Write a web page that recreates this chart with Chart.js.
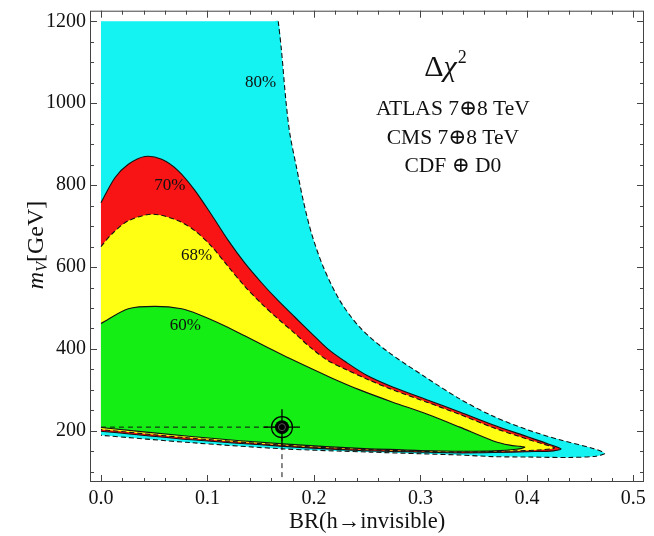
<!DOCTYPE html>
<html>
<head>
<meta charset="utf-8">
<script src="https://cdn.jsdelivr.net/npm/chart.js@4.4.0/dist/chart.umd.min.js"></script>
<style>
  html, body { margin: 0; padding: 0; background: #fff; }
  #wrap { width: 654px; height: 536px; }
</style>
</head>
<body>
<div id="wrap"><canvas id="chi2Chart"></canvas></div>
<script>
// 軸の範囲と目盛り
const brRange = [-0.0103, 0.51];
const mvRange = [75, 1226];
const brTicks = [0, 0.1, 0.2, 0.3, 0.4, 0.5];
const mvTicks = [200, 400, 600, 800, 1000, 1200];
const brMinorStep = 0.02;
const mvMinorStep = 50;

// スキャン範囲の上端
const scanTopMV = 1200;

// 80% 等高線（上側は先端まで、下側は先端から BR=0 へ）
const c80UpperBR = [0.1665, 0.1695, 0.1737, 0.1775, 0.1837, 0.190, 0.198, 0.209, 0.2244, 0.243, 0.268, 0.306, 0.337, 0.368, 0.400, 0.431, 0.462, 0.473];
const c80UpperMV = [1200, 1130, 1006, 924, 843, 762, 680, 599, 518, 453, 396, 329, 278, 236, 203, 178, 157, 145];
const c80LowerBR = [0.465, 0.44, 0.40, 0.368, 0.337, 0.30, 0.253, 0.171, 0.085, 0];
const c80LowerMV = [138, 135, 136, 137, 141, 144, 148, 156, 171, 189];

// 70% 等高線
const c70UpperBR = [0, 0.0131, 0.0257, 0.0413, 0.057, 0.0726, 0.088, 0.104, 0.1195, 0.135, 0.151, 0.166, 0.182, 0.197, 0.213, 0.230, 0.250, 0.274, 0.306, 0.337, 0.368, 0.400, 0.420, 0.432];
const c70UpperMV = [757, 818, 851, 870, 863, 835, 788, 727, 665, 610, 561, 519, 478, 440, 400, 368, 335, 307, 276, 246, 215, 186, 168, 156];
const c70LowerBR = [0.425, 0.40, 0.37, 0.337, 0.30, 0.243, 0.171, 0.085, 0];
const c70LowerMV = [151, 149, 147, 146, 148, 152, 162, 178, 199];

// 68% 等高線
const c68UpperBR = [0, 0.010, 0.0257, 0.049, 0.0726, 0.088, 0.104, 0.1195, 0.135, 0.151, 0.166, 0.182, 0.197, 0.213, 0.230, 0.250, 0.274, 0.306, 0.337, 0.368, 0.400, 0.415, 0.426];
const c68UpperMV = [650, 680, 713, 729, 713, 689, 650, 601, 553, 510, 474, 438, 403, 372, 350, 326, 300, 270, 240, 208, 180, 168, 158];
const c68LowerBR = [0.41, 0.39, 0.337, 0.30, 0.243, 0.171, 0.085, 0];
const c68LowerMV = [153, 151, 148, 150, 155, 165, 182, 203];

// 60% 等高線
const c60UpperBR = [0, 0.0257, 0.0507, 0.0758, 0.093, 0.115, 0.135, 0.157, 0.177, 0.215, 0.243, 0.274, 0.306, 0.337, 0.368, 0.384, 0.394, 0.398];
const c60UpperMV = [462, 498, 504, 498, 483, 458, 432, 403, 377, 331, 300, 270, 241, 209, 176, 165, 162, 160];
const c60LowerBR = [0.39, 0.37, 0.337, 0.30, 0.243, 0.171, 0.085, 0];
const c60LowerMV = [155, 151, 150, 152, 157, 168, 186, 208];

// 最良フィット点
const bestFitBR = 0.17;
const bestFitMV = 209;

// 等高線ラベル
const contourLabelText = ["80%", "70%", "68%", "60%"];
const contourLabelBR = [0.150, 0.0646, 0.0898, 0.0793];
const contourLabelMV = [1050, 798, 628, 457];

// 右上の説明
const experimentLines = ["ATLAS 7⊕8 TeV", "CMS 7⊕8 TeV", "CDF ⊕ D0"];
const experimentMV = [986, 915, 847];
const legendBR = 0.3305;

const serif = '"Liberation Serif", "DejaVu Serif", serif';

// BR と m_V の配列を点の配列にする
function toPoints(brList, mvList) {
  return brList.map(function (br, i) {
    return { x: br, y: mvList[i] };
  });
}

const c80 = toPoints(c80UpperBR, c80UpperMV).concat(toPoints(c80LowerBR, c80LowerMV));
const c70 = toPoints(c70UpperBR, c70UpperMV).concat(toPoints(c70LowerBR, c70LowerMV));
const c68 = toPoints(c68UpperBR, c68UpperMV).concat(toPoints(c68LowerBR, c68LowerMV));
const c60 = toPoints(c60UpperBR, c60UpperMV).concat(toPoints(c60LowerBR, c60LowerMV));

// 上端は直線で閉じる（角で曲線がはみ出さないよう角の手前にも点を置く）
const c80Region = [
  { x: 0, y: scanTopMV },
  { x: c80UpperBR[0] - 0.004, y: scanTopMV },
].concat(c80);

// 塗りつぶし領域
function regionDataset(points, color, order) {
  return {
    data: points,
    showLine: true,
    fill: "shape",
    backgroundColor: color,
    borderColor: "transparent",
    borderWidth: 0,
    pointRadius: 0,
    tension: 0.3,
    order: order,
  };
}

// 等高線の線
function contourDataset(points, dash, order) {
  return {
    data: points,
    showLine: true,
    fill: false,
    borderColor: "#111",
    borderWidth: 1.1,
    borderDash: dash,
    pointRadius: 0,
    tension: 0.3,
    order: order,
  };
}

const bestFit = [{ x: bestFitBR, y: bestFitMV }];

const datasets = [
  regionDataset(c80Region, "#14f2f2", 20),
  regionDataset(c70, "#f81414", 19),
  regionDataset(c68, "#ffff14", 18),
  regionDataset(c60, "#14ee14", 17),
  contourDataset(c80, [5, 3], 12),
  contourDataset(c70, [], 11),
  contourDataset(c68, [5, 3], 10),
  contourDataset(c60, [], 9),
  // 最良フィット点への補助線
  {
    data: [{ x: 0, y: bestFitMV }, { x: bestFitBR, y: bestFitMV }],
    showLine: true, fill: false, borderColor: "#111", borderWidth: 1,
    borderDash: [5, 4], pointRadius: 0, order: 6,
  },
  {
    data: [{ x: bestFitBR, y: bestFitMV }, { x: bestFitBR, y: mvRange[0] }],
    showLine: true, fill: false, borderColor: "#111", borderWidth: 1,
    borderDash: [5, 4], pointRadius: 0, order: 5,
  },
  // 十字、外側の円、黒丸
  {
    data: bestFit, showLine: false, pointStyle: "cross", pointRadius: 18,
    borderColor: "#000", borderWidth: 1.3, order: 3,
  },
  {
    data: bestFit, showLine: false, pointStyle: "circle", pointRadius: 10.5,
    backgroundColor: "transparent", borderColor: "#000", borderWidth: 1.2, order: 2,
  },
  {
    data: bestFit, showLine: false, pointStyle: "circle", pointRadius: 7,
    backgroundColor: "#000", borderColor: "#000", borderWidth: 0, order: 1,
  },
  {
    data: bestFit, showLine: false, pointStyle: "circle", pointRadius: 3.5,
    backgroundColor: "transparent", borderColor: "#555", borderWidth: 1, order: 0,
  },
];

// 枠と内向きの目盛り（上下左右）
const frameAndTicks = {
  id: "frameAndTicks",
  afterDatasetsDraw(chart) {
    const { ctx, chartArea: a, scales } = chart;
    const xs = scales.x;
    const ys = scales.y;
    ctx.save();
    ctx.strokeStyle = "#444";
    ctx.lineWidth = 1;
    ctx.strokeRect(a.left + 0.5, a.top + 0.5, a.right - a.left - 1, a.bottom - a.top - 1);
    ctx.beginPath();
    function xTick(v, len) {
      const p = Math.round(xs.getPixelForValue(v)) + 0.5;
      ctx.moveTo(p, a.bottom);
      ctx.lineTo(p, a.bottom - len);
      ctx.moveTo(p, a.top);
      ctx.lineTo(p, a.top + len);
    }
    function yTick(v, len) {
      const p = Math.round(ys.getPixelForValue(v)) + 0.5;
      ctx.moveTo(a.left, p);
      ctx.lineTo(a.left + len, p);
      ctx.moveTo(a.right, p);
      ctx.lineTo(a.right - len, p);
    }
    for (let v = 0; v <= brRange[1] + 1e-9; v += brMinorStep) {
      const isMajor = brTicks.some(function (t) { return Math.abs(t - v) < 1e-6; });
      xTick(v, isMajor ? 7 : 4);
    }
    for (let v = 100; v <= mvRange[1]; v += mvMinorStep) {
      const isMajor = mvTicks.indexOf(v) >= 0;
      yTick(v, isMajor ? 7 : 4);
    }
    ctx.stroke();
    ctx.restore();
  },
};

// ラベルと説明文
const annotations = {
  id: "annotations",
  afterDraw(chart) {
    const { ctx, scales } = chart;
    const xs = scales.x;
    const ys = scales.y;
    ctx.save();
    ctx.fillStyle = "#111";
    ctx.textAlign = "center";
    ctx.textBaseline = "middle";

    ctx.font = "17px " + serif;
    contourLabelText.forEach(function (t, i) {
      ctx.fillText(t, xs.getPixelForValue(contourLabelBR[i]), ys.getPixelForValue(contourLabelMV[i]));
    });

    ctx.font = "21.5px " + serif;
    experimentLines.forEach(function (t, i) {
      ctx.fillText(t, xs.getPixelForValue(legendBR), ys.getPixelForValue(experimentMV[i]));
    });

    // Δχ²
    ctx.textAlign = "left";
    ctx.textBaseline = "alphabetic";
    const fBig = "30px " + serif;
    const fIt = "italic 30px " + serif;
    const fSup = "18px " + serif;
    ctx.font = fBig;
    const wD = ctx.measureText("Δ").width;
    ctx.font = fIt;
    const wC = ctx.measureText("χ").width;
    ctx.font = fSup;
    const w2 = ctx.measureText("2").width;
    const base = ys.getPixelForValue(1067);
    let px = xs.getPixelForValue(0.323) - (wD + wC + w2) / 2;
    ctx.font = fBig;
    ctx.fillText("Δ", px, base);
    px += wD;
    ctx.font = fIt;
    ctx.fillText("χ", px, base);
    px += wC + 1;
    ctx.font = fSup;
    ctx.fillText("2", px, base - 13);

    // 縦軸タイトル m_V [GeV]
    ctx.translate(43, 245);
    ctx.rotate(-Math.PI / 2);
    const fM = "italic 24px " + serif;
    const fSub = "italic 16px " + serif;
    const fU = "24px " + serif;
    ctx.font = fM;
    const wm = ctx.measureText("m").width;
    ctx.font = fSub;
    const wv = ctx.measureText("V").width;
    ctx.font = fU;
    const wu = ctx.measureText("[GeV]").width;
    let tx = -(wm + wv + wu) / 2;
    ctx.font = fM;
    ctx.fillText("m", tx, 0);
    tx += wm;
    ctx.font = fSub;
    ctx.fillText("V", tx, 4);
    tx += wv;
    ctx.font = fU;
    ctx.fillText("[GeV]", tx, 0);
    ctx.restore();
  },
};

// 軸ラベルのはみ出し分で描画領域が縮まないようにする
function fixPadding(axis) {
  axis.paddingTop = 0;
  axis.paddingBottom = 0;
  axis.paddingLeft = 0;
  axis.paddingRight = 0;
}

const chartCanvas = document.getElementById("chi2Chart");
const chi2Chart = new Chart(chartCanvas, {
  type: "scatter",
  data: { datasets: datasets },
  options: {
    responsive: true,
    maintainAspectRatio: false,
    animation: false,
    events: [],
    layout: { autoPadding: false, padding: { top: 10.7, right: 10, left: 0, bottom: 0 } },
    plugins: {
      legend: { display: false },
      tooltip: { enabled: false },
    },
    scales: {
      x: {
        type: "linear",
        min: brRange[0],
        max: brRange[1],
        afterBuildTicks: function (axis) {
          axis.ticks = brTicks.map(function (v) { return { value: v }; });
        },
        afterFit: function (axis) {
          axis.height = 54;
          fixPadding(axis);
        },
        grid: { display: false, drawTicks: false },
        border: { display: false },
        ticks: {
          callback: function (v) { return Number(v).toFixed(1); },
          font: { family: serif, size: 20 },
          color: "#111",
          padding: 5,
          maxRotation: 0,
        },
        title: {
          display: true,
          text: "BR(h→invisible)",
          font: { family: serif, size: 22.5 },
          color: "#111",
          padding: { top: 0, bottom: 0 },
        },
      },
      y: {
        type: "linear",
        min: mvRange[0],
        max: mvRange[1],
        afterBuildTicks: function (axis) {
          axis.ticks = mvTicks.map(function (v) { return { value: v }; });
        },
        afterFit: function (axis) {
          axis.width = 90;
          fixPadding(axis);
        },
        grid: { display: false, drawTicks: false },
        border: { display: false },
        ticks: {
          callback: function (v) { return String(v); },
          font: { family: serif, size: 20 },
          color: "#111",
          padding: 4,
        },
      },
    },
  },
  plugins: [frameAndTicks, annotations],
});
</script>
</body>
</html>
